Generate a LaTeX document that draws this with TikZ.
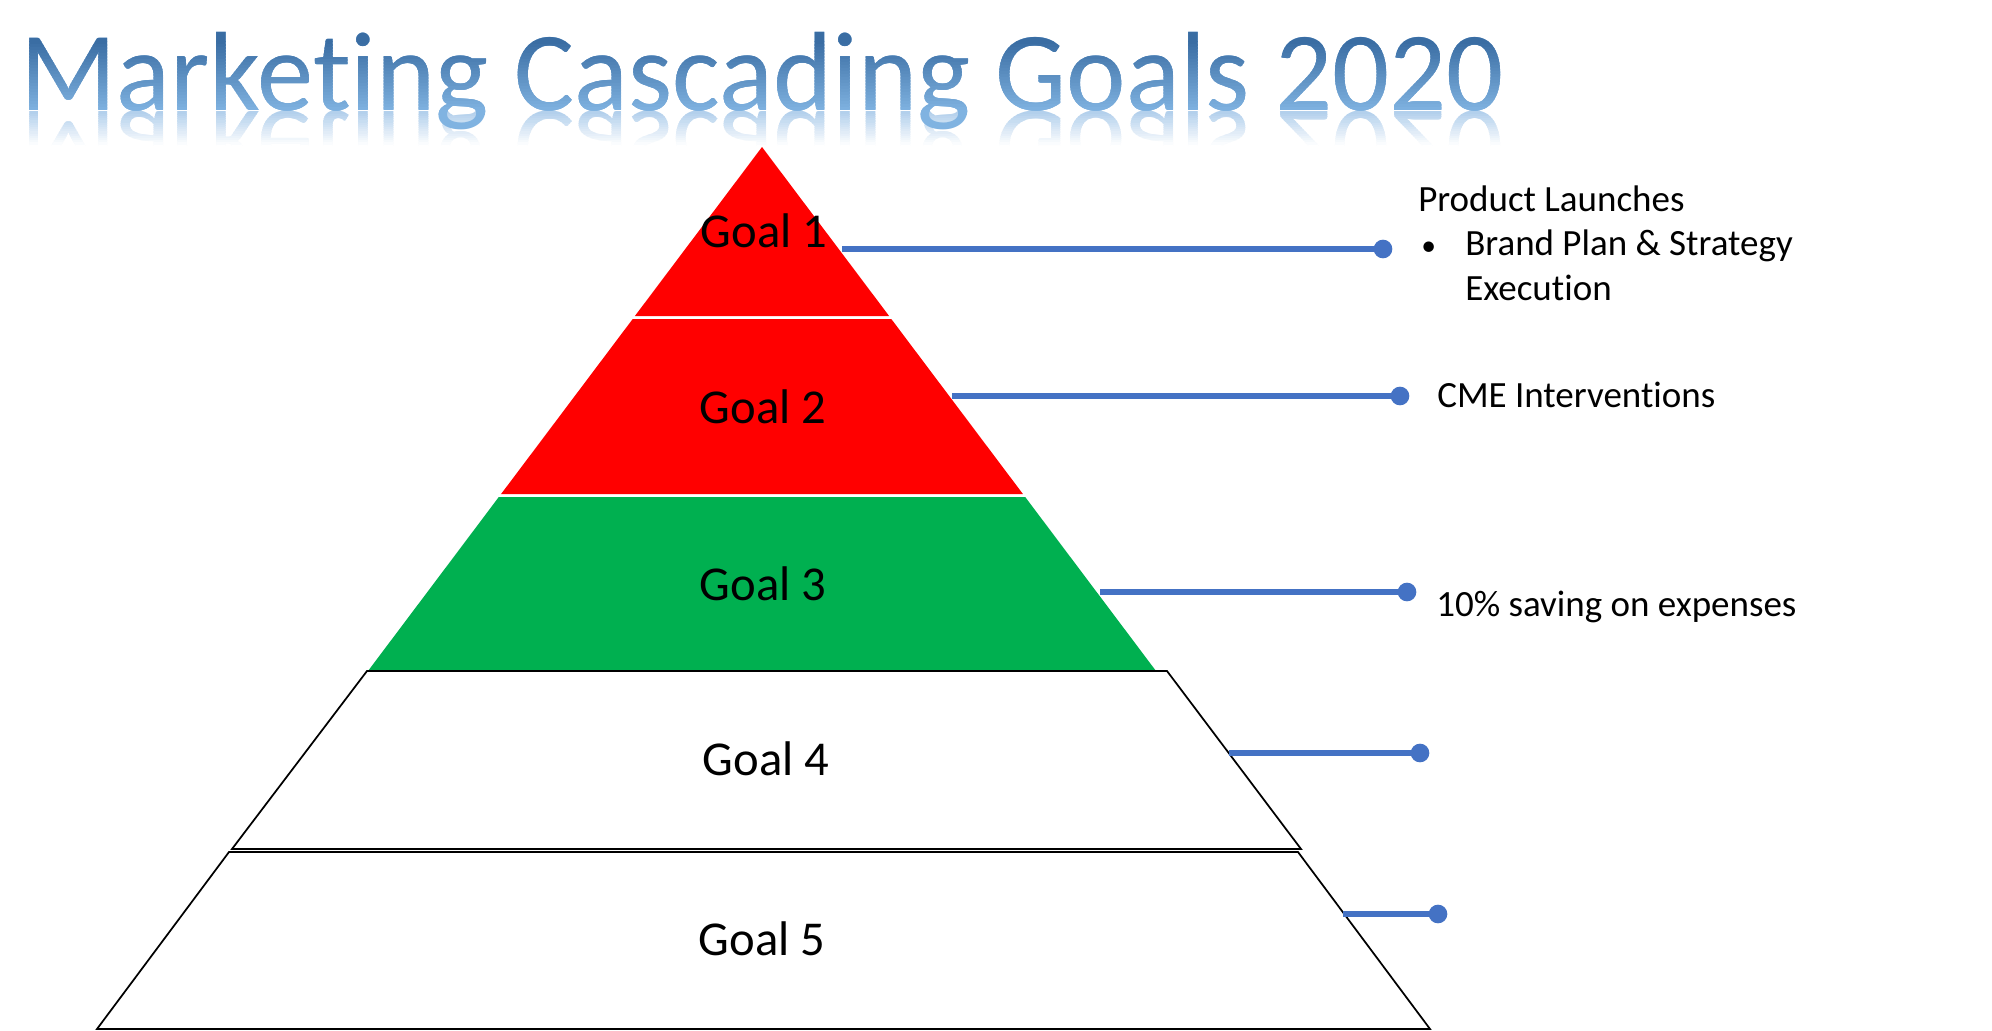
\documentclass[tikz,border=0pt]{standalone}
\usepackage{fontspec}
\setmainfont[Ligatures={NoCommon}]{Carlito}
\usepackage{graphicx}
\definecolor{tdark}{HTML}{3A6DA3}
\definecolor{tlight}{HTML}{80B3E1}
\definecolor{refl}{HTML}{B3D0EC}
\definecolor{goalred}{HTML}{FF0000}
\definecolor{goalgreen}{HTML}{00B050}
\definecolor{connblue}{HTML}{4472C4}
\newcommand{\mytitletext}{Marketing Cascading Goals 2020}
\begin{document}
\begin{tikzpicture}[x=0.75pt,y=-0.75pt,
  titlestyle/.style={inner sep=0pt, anchor=base west, font=\fontsize{84.5}{90}\selectfont},
  goallabel/.style={inner sep=0pt, anchor=base, font=\fontsize{36.5}{42}\selectfont},
  sidetext/.style={inner sep=0pt, anchor=base west, font=\fontsize{27.75}{33}\selectfont},
  layer/.style={draw=black, line width=1.3pt, fill=white, line join=miter},
  conn/.style={draw=connblue, line width=3.9pt},
  dot/.style={circle, fill=connblue, inner sep=0pt, minimum size=14pt}]
\useasboundingbox (0,0) rectangle (1992,1031);
\fill[white] (0,0) rectangle (1992,1031);

% ---- title reflection ----
\foreach \i in {0,...,15}{
  \pgfmathsetmacro\ya{112+\i*2.2}
  \pgfmathsetmacro\yb{\ya+2.5}
  \pgfmathtruncatemacro\p{100-\i*100/15}
  \begin{scope}
    \clip (0,\ya) rectangle (1992,\yb);
    \node[titlestyle, text=refl!\p!white] at (20,112) {\scalebox{1}[-1]{\mytitletext}};
  \end{scope}
}
% ---- title with vertical gradient ----
\node[titlestyle, text=tlight] (title) at (20,111) {\mytitletext};
\begin{scope}
  \clip (0,0) rectangle (1992,42);
  \node[titlestyle, text=tdark] at (20,111) {\mytitletext};
\end{scope}
\foreach \i in {0,...,23}{
  \pgfmathsetmacro\ya{42+\i*3}
  \pgfmathsetmacro\yb{\ya+3.3}
  \pgfmathtruncatemacro\p{100-\i*100/23}
  \begin{scope}
    \clip (0,\ya) rectangle (1992,\yb);
    \node[titlestyle, text=tdark!\p!tlight] at (20,111) {\mytitletext};
  \end{scope}
}

% ---- pyramid: coloured top ----
\fill[goalred]   (762,147) -- (889.1,316) -- (634.9,316) -- cycle;
\fill[goalred]   (632.7,319) -- (891.3,319) -- (1022.9,494) -- (501.1,494) -- cycle;
\fill[goalgreen] (498.8,497) -- (1025.2,497) -- (1156,671) -- (368,671) -- cycle;

% ---- pyramid: outlined bottom layers ----
\path[layer] (367,671) -- (1167,671) -- (1301,849) -- (232,849) -- cycle;
\path[layer] (229,852) -- (1298,852) -- (1430,1029) -- (97,1029) -- cycle;

% ---- goal labels ----
\node[goallabel] (g1) at (764,247) {Goal 1};
\node[goallabel] (g2) at (763,423) {Goal 2};
\node[goallabel] (g3) at (763,600) {Goal 3};
\node[goallabel] (g4) at (766,775) {Goal 4};
\node[goallabel] (g5) at (762,955) {Goal 5};

% ---- connectors ----
\coordinate (s1) at (842,249);
\coordinate (s2) at (952,396);
\coordinate (s3) at (1100,592);
\coordinate (s4) at (1229,753);
\coordinate (s5) at (1343,914);
\node[dot] (d1) at (1383,249) {};
\node[dot] (d2) at (1400,396) {};
\node[dot] (d3) at (1407,592) {};
\node[dot] (d4) at (1420,753) {};
\node[dot] (d5) at (1438,914) {};
\draw[conn] (s1) -- (d1.center);
\draw[conn] (s2) -- (d2.center);
\draw[conn] (s3) -- (d3.center);
\draw[conn] (s4) -- (d4.center);
\draw[conn] (s5) -- (d5.center);

% ---- side texts ----
\node[sidetext] (t1) at (1418,211) {Product Launches};
\node[sidetext] (t1b) at (1421,255) {\scalebox{0.8}{\textbullet}};
\node[sidetext] (t1c) at (1465,255) {Brand Plan \& Strategy};
\node[sidetext] (t1d) at (1465,300) {Execution};
\node[sidetext] (t2) at (1437,407) {CME Interventions};
\node[sidetext] (t3) at (1436,616) {10\% saving on expenses};
\end{tikzpicture}
\end{document}
